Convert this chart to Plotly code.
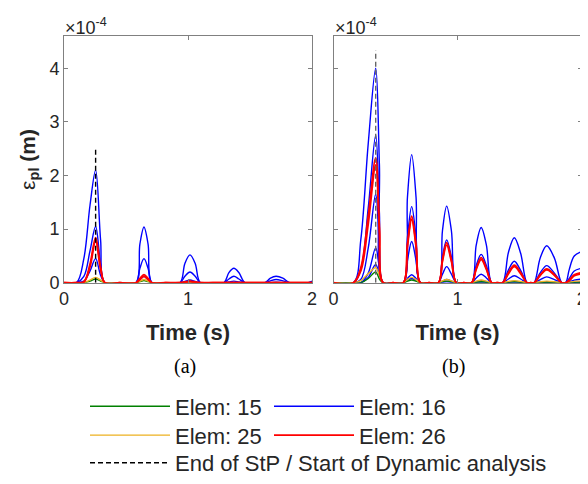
import plotly.graph_objects as go

# ---------------- data (values in units of 1e-4 m) ----------------
T_A = [0.00, 0.10, 0.16, 0.21, 0.255, 0.295, 0.33, 0.45,
       0.58, 0.612, 0.645, 0.678, 0.71, 0.82,
       0.935, 0.975, 1.016, 1.058, 1.10, 1.20,
       1.29, 1.33, 1.37, 1.41, 1.46, 1.55,
       1.62, 1.665, 1.71, 1.765, 1.82, 1.92, 1.97, 2.00]

A_E16_1 = [0, 0, 0.45, 1.45, 2.1, 0.8, 0, 0,
           0, 0.72, 1.04, 0.72, 0, 0,
           0, 0.36, 0.52, 0.36, 0, 0,
           0, 0.19, 0.27, 0.19, 0, 0,
           0, 0.085, 0.12, 0.085, 0, 0, 0, 0.03]
A_E16_2 = [0, 0, 0.12, 0.6, 1.05, 0.35, 0, 0,
           0, 0.27, 0.45, 0.27, 0, 0,
           0, 0.12, 0.2, 0.12, 0, 0,
           0, 0.07, 0.12, 0.07, 0, 0,
           0, 0.035, 0.06, 0.035, 0, 0, 0, 0.01]
A_E16_3 = [0, 0, 0.03, 0.22, 0.45, 0.14, 0, 0,
           0, 0.06, 0.12, 0.06, 0, 0,
           0, 0.025, 0.05, 0.025, 0, 0,
           0, 0.015, 0.03, 0.015, 0, 0,
           0, 0, 0.01, 0, 0, 0, 0, 0]
A_E26_1 = [0, 0, 0.02, 0.35, 0.84, 0.3, 0, 0,
           0, 0.08, 0.15, 0.08, 0, 0,
           0, 0.015, 0.03, 0.015, 0, 0,
           0, 0, 0, 0, 0, 0,
           0, 0, 0, 0, 0, 0, 0, 0]
A_E26_2 = [0, 0, 0.01, 0.3, 0.78, 0.25, 0, 0,
           0, 0.06, 0.12, 0.06, 0, 0,
           0, 0, 0.02, 0, 0, 0,
           0, 0, 0, 0, 0, 0,
           0, 0, 0, 0, 0, 0, 0, 0]
A_E25 = [0, 0, 0, 0.05, 0.1, 0.05, 0, 0,
         0, 0.03, 0.06, 0.03, 0, 0,
         0, 0, 0, 0, 0, 0,
         0, 0, 0, 0, 0, 0,
         0, 0, 0, 0, 0, 0, 0, 0]
A_E15 = [0, 0, 0, 0.03, 0.07, 0.03, 0, 0,
         0, 0.02, 0.04, 0.02, 0, 0,
         0, 0, 0, 0, 0, 0,
         0, 0, 0, 0, 0, 0,
         0, 0, 0, 0, 0, 0, 0, 0]
A_STP_T = [0.255, 0.255]
A_STP_V = [0, 2.5]

T_B = [0.00, 0.16, 0.22, 0.28, 0.34, 0.37, 0.40, 0.48,
       0.5625, 0.596, 0.63, 0.665, 0.70, 0.77,
       0.845, 0.878, 0.912, 0.95, 0.99, 1.05,
       1.113, 1.15, 1.19, 1.232, 1.275, 1.32,
       1.363, 1.41, 1.457, 1.508, 1.56, 1.59,
       1.616, 1.667, 1.718, 1.78, 1.84,
       1.87, 1.90, 1.94, 2.00]

B_E16_1 = [0, 0, 0.8, 2.6, 4.0, 2.2, 0, 0,
           0, 1.6, 2.39, 1.6, 0, 0,
           0, 0.97, 1.43, 0.97, 0, 0,
           0, 0.7, 1.03, 0.7, 0, 0,
           0, 0.57, 0.84, 0.55, 0, 0,
           0, 0.47, 0.69, 0.46, 0,
           0, 0.25, 0.5, 0.58]
B_E16_2 = [0, 0, 0.25, 1.4, 2.75, 1.3, 0, 0,
           0, 0.85, 1.42, 0.85, 0, 0,
           0, 0.48, 0.80, 0.48, 0, 0,
           0, 0.32, 0.53, 0.32, 0, 0,
           0, 0.24, 0.40, 0.23, 0, 0,
           0, 0.19, 0.32, 0.18, 0,
           0, 0.08, 0.22, 0.27]
B_E16_3 = [0, 0, 0.06, 0.65, 1.65, 0.65, 0, 0,
           0, 0.42, 0.77, 0.42, 0, 0,
           0, 0.16, 0.30, 0.16, 0, 0,
           0, 0.09, 0.16, 0.09, 0, 0,
           0, 0.07, 0.13, 0.07, 0, 0,
           0, 0.06, 0.11, 0.06, 0,
           0, 0.02, 0.05, 0.07]
B_E16_4 = [0, 0, 0, 0.18, 0.65, 0.28, 0, 0,
           0, 0.08, 0.15, 0.08, 0, 0,
           0, 0.03, 0.06, 0.03, 0, 0,
           0, 0.02, 0.04, 0.02, 0, 0,
           0, 0.015, 0.03, 0.015, 0, 0,
           0, 0.01, 0.02, 0.01, 0,
           0, 0, 0.01, 0.02]
B_E16_5 = [0, 0, 0, 0.1, 0.34, 0.14, 0, 0,
           0, 0.04, 0.08, 0.04, 0, 0,
           0, 0.01, 0.02, 0.01, 0, 0,
           0, 0, 0, 0, 0, 0,
           0, 0, 0, 0, 0, 0,
           0, 0, 0, 0, 0,
           0, 0, 0, 0]
B_E26_1 = [0, 0, 0.28, 1.25, 2.33, 1.05, 0, 0,
           0, 0.72, 1.24, 0.72, 0, 0,
           0, 0.43, 0.75, 0.43, 0, 0,
           0, 0.27, 0.47, 0.27, 0, 0,
           0, 0.19, 0.33, 0.19, 0, 0,
           0, 0.15, 0.26, 0.15, 0,
           0, 0.05, 0.15, 0.19]
B_E26_2 = [0, 0, 0.22, 1.1, 2.2, 0.95, 0, 0,
           0, 0.68, 1.18, 0.68, 0, 0,
           0, 0.40, 0.70, 0.40, 0, 0,
           0, 0.25, 0.43, 0.25, 0, 0,
           0, 0.17, 0.30, 0.17, 0, 0,
           0, 0.14, 0.24, 0.14, 0,
           0, 0.04, 0.13, 0.17]
B_E25 = [0, 0, 0.04, 0.17, 0.28, 0.14, 0, 0,
         0, 0.06, 0.10, 0.06, 0, 0,
         0, 0.035, 0.06, 0.035, 0, 0,
         0, 0.03, 0.05, 0.03, 0, 0,
         0, 0.025, 0.04, 0.025, 0, 0,
         0, 0.02, 0.03, 0.02, 0,
         0, 0.01, 0.025, 0.03]
B_E15 = [0, 0, 0, 0.08, 0.2, 0.07, 0, 0,
         0, 0.03, 0.05, 0.03, 0, 0,
         0, 0.02, 0.03, 0.02, 0, 0,
         0, 0.01, 0.02, 0.01, 0, 0,
         0, 0.01, 0.02, 0.01, 0, 0,
         0, 0, 0.01, 0, 0,
         0, 0, 0, 0.01]
B_STP_T = [0.34, 0.34]
B_STP_V = [0, 4.33]

X_TICKS = [0, 1, 2]
Y_TICKS = [0, 1, 2, 3, 4]
PANEL_LABELS = ["(a)", "(b)"]
NAMES = {"15": "Elem: 15", "16": "Elem: 16", "25": "Elem: 25", "26": "Elem: 26",
         "stp": "End of StP / Start of Dynamic analysis"}

# ---------------- styles ----------------
C15, C16, C25, C26 = "#008000", "#0000FF", "#EDB120", "#FF0000"
AX = "#808080"
TXT = "#262626"
FONT = "Liberation Sans, Arial, sans-serif"

fig = go.Figure()


def add(t, v, color, key, legend, show, xa, ya, width=1.4):
    fig.add_trace(go.Scatter(
        x=t, y=v, mode="lines", name=NAMES[key], legend=legend,
        showlegend=show, xaxis=xa, yaxis=ya, hoverinfo="skip",
        line=dict(color=color, width=width, shape="spline", smoothing=1.0)))


for t, (e16, e15, e25, e26, stp_t, stp_v, stp_c), xa, ya, first in [
    (T_A, ([A_E16_1, A_E16_2, A_E16_3], [A_E15], [A_E25], [A_E26_1, A_E26_2],
           A_STP_T, A_STP_V, "black"), "x", "y", True),
    (T_B, ([B_E16_1, B_E16_2, B_E16_3, B_E16_4, B_E16_5], [B_E15], [B_E25],
           [B_E26_1, B_E26_2], B_STP_T, B_STP_V, "#666666"), "x2", "y2", False),
]:
    for i, v in enumerate(e16):
        add(t, v, C16, "16", "legend2", first and i == 0, xa, ya)
    for i, v in enumerate(e15):
        add(t, v, C15, "15", "legend", first and i == 0, xa, ya)
    for i, v in enumerate(e25):
        add(t, v, C25, "25", "legend3", first and i == 0, xa, ya)
    for i, v in enumerate(e26):
        add(t, v, C26, "26", "legend4", first and i == 0, xa, ya, width=1.8)
    fig.add_trace(go.Scatter(
        x=stp_t, y=stp_v, mode="lines", name=NAMES["stp"], legend="legend5",
        showlegend=first, xaxis=xa, yaxis=ya, hoverinfo="skip",
        line=dict(color=stp_c, width=1.4, dash="5px,3px")))

# page offset: the html body has an 8px margin
OFF = 8
W, H = 580, 476


def fx(px):
    return (px - OFF) / W


def fy(py):
    return 1 - (py - OFF) / H


xd1 = [fx(64), fx(312)]
xd2 = [fx(333.5), fx(581.7)]
yd = [fy(284.5), fy(36.3)]

axis_common = dict(showline=True, mirror="ticks", linecolor=AX, linewidth=1,
                   ticks="inside", ticklen=4, tickcolor=AX, showgrid=False,
                   zeroline=False, automargin=False,
                   tickfont=dict(family=FONT, size=18, color=TXT))

xtitle = dict(text="<b>Time (s)</b>", font=dict(size=22), standoff=16)
fig.update_layout(
    width=W, height=H, margin=dict(l=0, r=0, t=0, b=0),
    paper_bgcolor="white", plot_bgcolor="white",
    font=dict(family=FONT, color=TXT),
    xaxis=dict(domain=xd1, range=[0, 2], tickvals=X_TICKS, anchor="y",
               title=xtitle, **axis_common),
    xaxis2=dict(domain=xd2, range=[0, 2], tickvals=X_TICKS, anchor="y2",
                title=xtitle, **axis_common),
    yaxis=dict(domain=yd, range=[0, 4.6], tickvals=Y_TICKS, anchor="x",
               title=dict(text="ε<b><sub>pl</sub> (m)</b>", font=dict(size=21), standoff=8),
               **axis_common),
    yaxis2=dict(domain=yd, range=[0, 4.6], tickvals=Y_TICKS, anchor="x2",
                showticklabels=False, **axis_common),
)

leg_common = dict(orientation="h", xanchor="left", yanchor="middle",
                  bgcolor="rgba(0,0,0,0)", borderwidth=0,
                  font=dict(family=FONT, size=22, color=TXT), itemwidth=80)
rows = [409, 438, 466]
col1, col2 = 85, 269
fig.update_layout(
    legend=dict(x=fx(col1), y=fy(rows[0]), **leg_common),
    legend2=dict(x=fx(col2), y=fy(rows[0]), **leg_common),
    legend3=dict(x=fx(col1), y=fy(rows[1]), **leg_common),
    legend4=dict(x=fx(col2), y=fy(rows[1]), **leg_common),
    legend5=dict(x=fx(col1), y=fy(rows[2]), **leg_common),
)

for xc, lab in zip([fx(185), fx(453)], PANEL_LABELS):
    fig.add_annotation(x=xc, y=fy(369), xref="paper", yref="paper",
                       text=lab, showarrow=False, xanchor="center", yanchor="middle",
                       font=dict(family="Liberation Serif, Times New Roman, serif",
                                 size=20, color="black"))
for xl in [xd1[0], xd2[0]]:
    fig.add_annotation(x=xl, y=fy(40), xref="paper", yref="paper",
                       text="×10<sup>-4</sup>", showarrow=False, xanchor="left",
                       yanchor="bottom", xshift=-1,
                       font=dict(family=FONT, size=18, color=TXT))

fig.write_html("out.html")
